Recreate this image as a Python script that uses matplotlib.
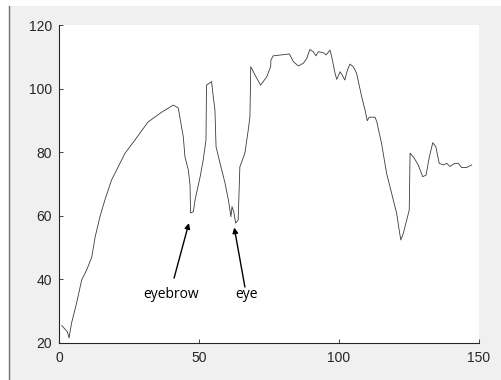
import matplotlib.pyplot as plt
from matplotlib.patches import Rectangle
from matplotlib.lines import Line2D

# intensity profile (column position vs. mean grey level)
pos = [1, 2, 3, 3.6, 4.5, 6.3, 8.1, 9.9, 11.7, 12.9, 14.6, 16.4, 18.8, 21.1, 23.6,
       27.1, 31.8, 36.7, 40.8, 41.5, 42.6, 44.4, 45, 46.2, 46.8, 47, 48, 48.6, 50.4,
       51.5, 52.5, 52.7, 53.7, 54.5, 55.1, 55.7, 56.1, 57.5, 59.3, 60.5, 61.4, 61.8,
       62.5, 63.1, 64, 64.6, 66.4, 67.6, 68.2, 68.5, 70, 72, 74.2, 75.6, 75.7, 76.5,
       79.5, 82.3, 83.7, 85.5, 87.3, 88.5, 89.6, 90.8, 91.8, 92.6, 94.4, 95.4, 96.8,
       97.4, 98.6, 99.2, 100.4, 101.3, 102.1, 103, 103.9, 105.1, 106.3, 108.1, 109.3,
       110.1, 110.8, 112.9, 113.5, 115.2, 117, 118.8, 120.6, 121.5, 122.1, 123, 124.2,
       125.1, 125.4, 126.9, 128.3, 129.9, 131.1, 132.3, 133.5, 134.6, 135.8, 137.3,
       138.5, 139.6, 141.4, 142.6, 143.8, 145.6, 147.4]
level = [25.5, 24.5, 23.5, 21.6, 26.3, 32.6, 39.8, 43, 47, 53.3, 59.6, 65, 71.3, 75.3,
         79.7, 83.8, 89.5, 92.6, 94.8, 94.5, 93.9, 84.8, 78.5, 74.4, 69.7, 60.9, 61.3,
         65, 72.2, 77.5, 83.8, 101.1, 101.7, 102.2, 97.5, 93.3, 81.7, 76.6, 70.3, 65,
         59.7, 62.9, 60.9, 57.7, 58.7, 75.4, 79.7, 87, 91.2, 106.9, 104.3, 101.1, 103.7,
         106.9, 109, 110.3, 110.6, 110.9, 108.5, 107.1, 108, 109.5, 112.3, 111.6, 110.3,
         111.6, 111.3, 110.6, 112.1, 110, 104.8, 102.9, 105.3, 104, 102.7, 105.8, 107.7,
         106.9, 104.8, 97.5, 93.3, 89.9, 91, 91, 89.6, 82.8, 73.4, 67.1, 60.8, 55.5,
         52.4, 54.5, 58.7, 61.8, 79.7, 78.1, 76, 72.3, 72.8, 78.6, 83, 81.7, 76.5, 76,
         76.5, 75.5, 76.5, 76.5, 75.2, 75.2, 76]

labels = ["eyebrow", "eye"]
label_xy = [(40, 35.1), (66.8, 35.1)]
tip_xy = [(46.4, 57.7), (62.6, 56.3)]
tail_xy = [(41.1, 40.4), (66.4, 37.6)]

xticks = [0, 50, 100, 150]
yticks = [20, 40, 60, 80, 100, 120]

fig = plt.figure(figsize=(5.02, 3.80), dpi=100, facecolor="#f0f0f0")
# screenshot frame: white strip on top and left edge line
fig.patches.append(Rectangle((0, 0.984), 1, 0.016, transform=fig.transFigure,
                             facecolor="white", edgecolor="none"))
fig.patches.append(Rectangle((0, 0), 0.018, 1, transform=fig.transFigure,
                             facecolor="white", edgecolor="none"))
fig.lines.append(Line2D([0.018, 0.018], [0, 0.984], transform=fig.transFigure,
                        color="#707070", linewidth=1))

ax = fig.add_axes([0.1175, 0.0974, 0.8366, 0.8368])
ax.plot(pos, level, color="#3a3a3a", linewidth=0.6)

for text, (tx, ty), (hx, hy), (ax0, ay0) in zip(labels, label_xy, tip_xy, tail_xy):
    ax.annotate("", xy=(hx, hy), xytext=(ax0, ay0),
                arrowprops=dict(arrowstyle="-|>", color="black", lw=1.0,
                                mutation_scale=8, shrinkA=0, shrinkB=0))
    ax.text(tx, ty, text, ha="center", va="center", fontsize=10, family="Open Sans")

ax.set_xlim(0, 150)
ax.set_ylim(20, 120)
ax.set_xticks(xticks)
ax.set_yticks(yticks)
for s in ["top", "right"]:
    ax.spines[s].set_visible(False)
for s in ["left", "bottom"]:
    ax.spines[s].set_color("#262626")
    ax.spines[s].set_linewidth(0.8)
ax.tick_params(direction="in", length=3, width=0.6, colors="#262626",
               labelsize=10)
ax.tick_params(axis="x", pad=6)
ax.tick_params(axis="y", pad=5)
for lab in ax.get_xticklabels() + ax.get_yticklabels():
    lab.set_family("Liberation Sans")

fig.savefig("out.png", dpi=100, facecolor=fig.get_facecolor())
